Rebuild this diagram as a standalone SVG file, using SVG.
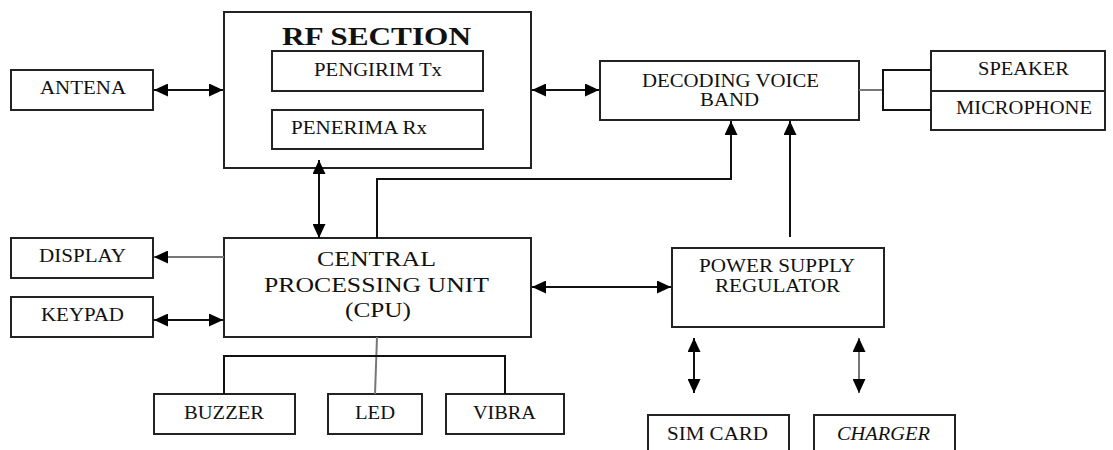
<svg xmlns="http://www.w3.org/2000/svg" width="1113" height="450" viewBox="0 0 1113 450">
<style>
.box{fill:#fff;stroke:#222;stroke-width:2}
.ln{fill:none;stroke:#111;stroke-width:2}
.lg{fill:none;stroke:#777;stroke-width:2}
.t{font-family:"Liberation Serif","Times New Roman",serif;font-size:18px;fill:#111}
.cpu{font-size:20px}
.b{font-weight:bold;font-size:26px}
.i{font-style:italic}
</style>
<defs>
<marker id="ah" markerUnits="userSpaceOnUse" markerWidth="15" markerHeight="13" refX="14" refY="6.5" orient="auto-start-reverse">
<path d="M0,0 L14,6.5 L0,13 z" fill="#000"/>
</marker>
</defs>
<rect width="1113" height="450" fill="#fff"/>
<g id="rf-section">
<rect class="box" x="224" y="12" width="307" height="156"/>
<text class="t b" x="282" y="45" textLength="189" lengthAdjust="spacingAndGlyphs">RF SECTION</text>
</g>
<g id="pengirim">
<rect class="box" x="272" y="51" width="211" height="40"/>
<text class="t" x="314" y="76" textLength="128" lengthAdjust="spacingAndGlyphs">PENGIRIM Tx</text>
</g>
<g id="penerima">
<rect class="box" x="272" y="110" width="211" height="39"/>
<text class="t" x="291" y="134" textLength="136" lengthAdjust="spacingAndGlyphs">PENERIMA Rx</text>
</g>
<g id="antena">
<rect class="box" x="11" y="70" width="142" height="40"/>
<text class="t" x="40" y="94" textLength="86" lengthAdjust="spacingAndGlyphs">ANTENA</text>
</g>
<g id="decoding">
<rect class="box" x="600" y="61" width="259" height="59"/>
<text class="t" x="642" y="87" textLength="177" lengthAdjust="spacingAndGlyphs">DECODING VOICE</text>
<text class="t" x="700" y="106" textLength="59" lengthAdjust="spacingAndGlyphs">BAND</text>
</g>
<g id="speaker">
<rect class="box" x="931" y="51" width="174" height="40"/>
<text class="t" x="978" y="75" textLength="91" lengthAdjust="spacingAndGlyphs">SPEAKER</text>
</g>
<g id="microphone">
<rect class="box" x="931" y="91" width="174" height="39"/>
<text class="t" x="956" y="114" textLength="136" lengthAdjust="spacingAndGlyphs">MICROPHONE</text>
</g>
<g id="display">
<rect class="box" x="11" y="238" width="142" height="40"/>
<text class="t" x="39" y="262" textLength="87" lengthAdjust="spacingAndGlyphs">DISPLAY</text>
</g>
<g id="keypad">
<rect class="box" x="11" y="297" width="142" height="40"/>
<text class="t" x="41" y="321" textLength="83" lengthAdjust="spacingAndGlyphs">KEYPAD</text>
</g>
<g id="cpu">
<rect class="box" x="224" y="238" width="307" height="99"/>
<text class="t cpu" x="317" y="266" textLength="119" lengthAdjust="spacingAndGlyphs">CENTRAL</text>
<text class="t cpu" x="264" y="292" textLength="225" lengthAdjust="spacingAndGlyphs">PROCESSING UNIT</text>
<text class="t cpu" x="345" y="317" textLength="66" lengthAdjust="spacingAndGlyphs">(CPU)</text>
</g>
<g id="power-supply">
<rect class="box" x="672" y="248" width="212" height="79"/>
<text class="t" x="699" y="272" textLength="156" lengthAdjust="spacingAndGlyphs">POWER SUPPLY</text>
<text class="t" x="715" y="292" textLength="125" lengthAdjust="spacingAndGlyphs">REGULATOR</text>
</g>
<g id="buzzer">
<rect class="box" x="154" y="394" width="141" height="40"/>
<text class="t" x="184" y="419" textLength="80" lengthAdjust="spacingAndGlyphs">BUZZER</text>
</g>
<g id="led">
<rect class="box" x="328" y="394" width="94" height="40"/>
<text class="t" x="355" y="419" textLength="40" lengthAdjust="spacingAndGlyphs">LED</text>
</g>
<g id="vibra">
<rect class="box" x="446" y="394" width="118" height="40"/>
<text class="t" x="473" y="419" textLength="63" lengthAdjust="spacingAndGlyphs">VIBRA</text>
</g>
<g id="sim-card">
<rect class="box" x="648" y="415" width="141" height="50"/>
<text class="t" x="667" y="440" textLength="101" lengthAdjust="spacingAndGlyphs">SIM CARD</text>
</g>
<g id="charger">
<rect class="box" x="814" y="415" width="141" height="50"/>
<text class="t i" x="837" y="440" textLength="93" lengthAdjust="spacingAndGlyphs">CHARGER</text>
</g>
<g id="connectors">
<line class="ln" x1="154" y1="90" x2="223" y2="90" marker-start="url(#ah)" marker-end="url(#ah)"/>
<line class="ln" x1="532" y1="90" x2="599" y2="90" marker-start="url(#ah)" marker-end="url(#ah)"/>
<line class="lg" x1="859" y1="90" x2="883" y2="90"/>
<polyline class="ln" points="931,70 883,70 883,110 931,110"/>
<line class="ln" x1="319" y1="160" x2="319" y2="238" marker-start="url(#ah)" marker-end="url(#ah)"/>
<polyline class="ln" points="377,238 377,179 731,179 731,121" marker-end="url(#ah)"/>
<line class="ln" x1="790" y1="237" x2="790" y2="121" marker-end="url(#ah)"/>
<line class="lg" x1="224" y1="257" x2="154" y2="257" marker-end="url(#ah)"/>
<line class="ln" x1="154" y1="320" x2="223" y2="320" marker-start="url(#ah)" marker-end="url(#ah)"/>
<line class="ln" x1="532" y1="287" x2="671" y2="287" marker-start="url(#ah)" marker-end="url(#ah)"/>
<line class="lg" x1="377" y1="337" x2="375" y2="394"/>
<polyline class="ln" points="224,394 224,356 505,356 505,394"/>
<line class="ln" x1="694" y1="338" x2="694" y2="393" marker-start="url(#ah)" marker-end="url(#ah)"/>
<line class="lg" x1="859" y1="338" x2="859" y2="393" marker-start="url(#ah)" marker-end="url(#ah)"/>
</g>
</svg>
